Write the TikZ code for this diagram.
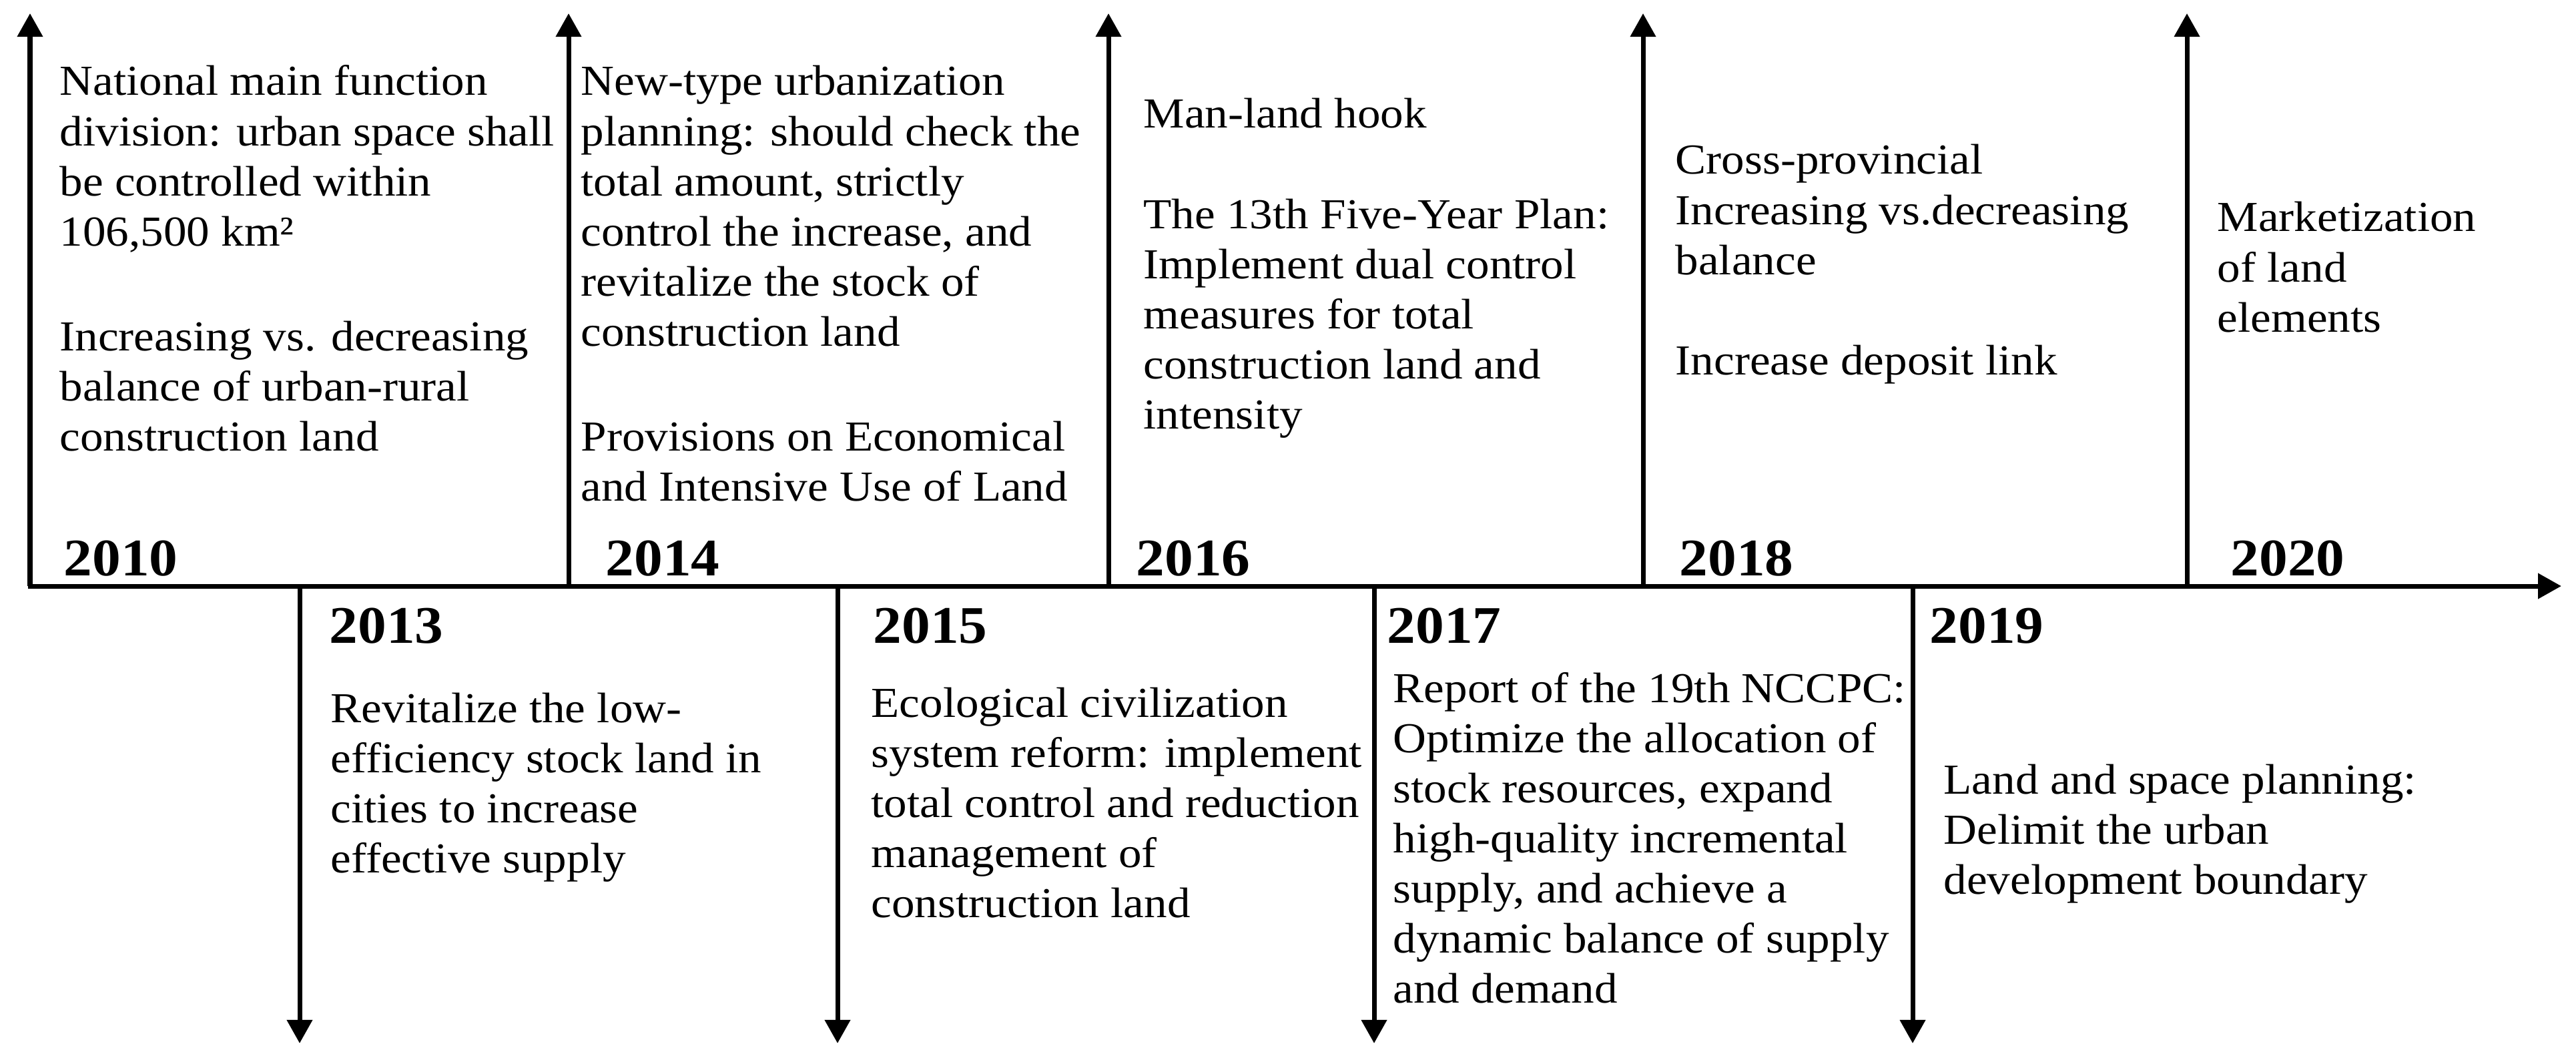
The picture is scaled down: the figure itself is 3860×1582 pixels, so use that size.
\documentclass[tikz,border=0pt]{standalone}
\usepackage{fontspec}
\setmainfont{Liberation Serif}[FakeStretch=1.08]
\usetikzlibrary{arrows.meta}
\newcommand{\bodyfont}{\fontsize{18.2pt}{21.34pt}\selectfont}
\newcommand{\yearfont}{\fontsize{22.5pt}{27pt}\selectfont\bfseries}
\newcommand{\txtlines}[1]{\begin{tabular}[t]{@{}l@{}}#1\end{tabular}}
\tikzset{
  arr/.style={line width=0.07cm, -{Triangle[length=0.35cm,width=0.37cm]}},
  txt/.style={anchor=base west, inner sep=0pt, font=\bodyfont},
  yr/.style={anchor=base west, inner sep=0pt, font=\yearfont}
}
\begin{document}
\begin{tikzpicture}[x=0.01cm,y=-0.01cm]
\useasboundingbox (0,0) rectangle (3860,1582);
% axis
\coordinate (ax0) at (42,878);
\coordinate (ax1) at (3838,878);
\draw[arr] (ax0) -- (ax1);
% up arrows
\foreach \n/\x in {2010/45,2014/852,2016/1661,2018/2462,2020/3277}{
  \coordinate (b\n) at (\x,878);
  \coordinate (t\n) at (\x,20);
  \draw[arr] (b\n) -- (t\n);
}
% down arrows
\foreach \n/\x in {2013/449,2015/1255,2017/2059,2019/2866}{
  \coordinate (b\n) at (\x,878);
  \coordinate (t\n) at (\x,1563);
  \draw[arr] (b\n) -- (t\n);
}
% years
\node[yr] (y2010) at (95,862) {2010};
\node[yr] (y2014) at (907,862) {2014};
\node[yr] (y2016) at (1702,862) {2016};
\node[yr] (y2018) at (2516,862) {2018};
\node[yr] (y2020) at (3342,862) {2020};
\node[yr] (y2013) at (493,963) {2013};
\node[yr] (y2015) at (1308,963) {2015};
\node[yr] (y2017) at (2078,963) {2017};
\node[yr] (y2019) at (2891,963) {2019};
% texts above
\node[txt] (e2010) at (89,143) {\txtlines{National main function\\ division: urban space shall\\ be controlled within\\ 106,500 km²\\ \\[2pt] Increasing vs. decreasing\\ balance of urban-rural\\ construction land}};
\node[txt] (e2014) at (870,143) {\txtlines{New-type urbanization\\ planning: should check the\\ total amount, strictly\\ control the increase, and\\ revitalize the stock of\\ construction land\\ \\[2pt] Provisions on Economical\\ and Intensive Use of Land}};
\node[txt] (e2016) at (1713,192) {\txtlines{Man-land hook\\ \\ The 13th Five-Year Plan:\\ Implement dual control\\ measures for total\\ construction land and\\ intensity}};
\node[txt] (e2018) at (2510,261) {\txtlines{Cross-provincial\\ Increasing vs.decreasing\\ balance\\ \\ Increase deposit link}};
\node[txt] (e2020) at (3322,347) {\txtlines{Marketization\\ of land\\ elements}};
% texts below
\node[txt] (e2013) at (495,1082) {\txtlines{Revitalize the low-\\ efficiency stock land in\\ cities to increase\\ effective supply}};
\node[txt] (e2015) at (1305,1074) {\txtlines{Ecological civilization\\ system reform: implement\\ total control and reduction\\ management of\\ construction land}};
\node[txt] (e2017) at (2087,1052) {\txtlines{Report of the 19th NCCPC:\\ Optimize the allocation of\\ stock resources, expand\\ high-quality incremental\\ supply, and achieve a\\ dynamic balance of supply\\ and demand}};
\node[txt] (e2019) at (2912,1189) {\txtlines{Land and space planning:\\ Delimit the urban\\ development boundary}};
\end{tikzpicture}
\end{document}
